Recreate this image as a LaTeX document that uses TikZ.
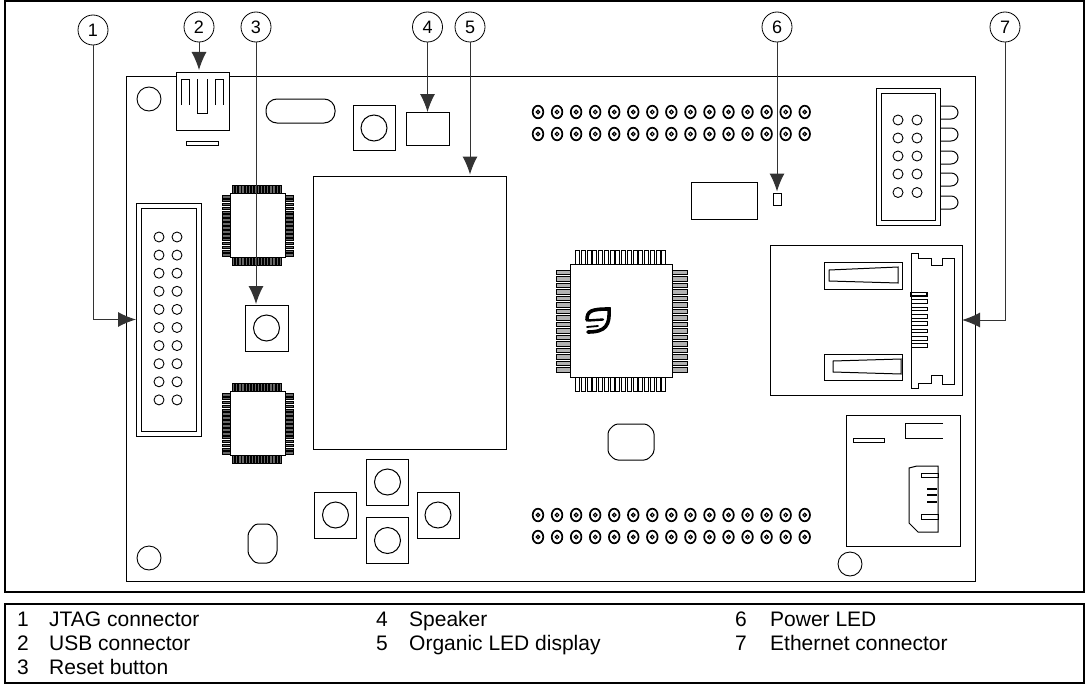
\documentclass[tikz,border=0pt]{standalone}
\usepackage{fontspec}
\setmainfont{Liberation Sans}
\tikzset{
	part/.style={draw, line width=1pt, fill=white},
	callout/.style={draw, circle, line width=0.8pt, minimum size=30pt, inner sep=0pt, fill=white, font=\fontsize{18}{18}\selectfont},
	leader/.style={draw, line width=1pt, black!80, -{Latex[length=18pt,width=15pt]}},
	target/.style={draw, line width=1pt, inner sep=0pt, outer sep=0pt},
	legend/.style={anchor=base west, inner sep=0pt, font=\fontsize{21}{21}\selectfont},
}
\usetikzlibrary{arrows.meta}
\begin{document}
\begin{tikzpicture}[x=1pt, y=-1pt]
	\useasboundingbox (0,0) rectangle (1086,685);

	% Frames
	\draw[line width=2pt] (5,1) rectangle (1084,592);
	\draw[line width=2pt] (5,604) rectangle (1084,683);

	% Board
	\draw[line width=1pt] (126,76) rectangle (975,581.5);
	\draw[line width=0.9pt] (149,99) circle (12);
	\draw[line width=0.9pt] (149,558) circle (12);
	\draw[line width=0.9pt] (850,564) circle (12);

	% USB connector
	\node[target, fill=white, minimum width=53pt, minimum height=58pt] (usb) at (202.5,101) {};
	\draw[line width=1pt] (181,105) -- (181,79) -- (189,79) -- (189,105);
	\draw[line width=1pt] (197,79) -- (197,113) -- (207,113) -- (207,79);
	\draw[line width=1pt] (215,105) -- (215,79) -- (223,79) -- (223,105);
	\draw[line width=1pt] (186,141.5) rectangle (218,145);

	% Crystal, button and speaker
	\draw[line width=1pt, rounded corners=11pt] (266,99) rectangle (335,123);
	\draw[line width=1pt] (353,105) rectangle (395,150);
	\draw[line width=1pt] (374,128) circle (13);
	\node[target, minimum width=43pt, minimum height=33pt] (speaker) at (427.5,128.5) {};

	% Organic LED display
	\node[target, minimum width=193pt, minimum height=273pt] (oled) at (409.5,312.5) {};
	\coordinate (oledtop) at (470,174.5);

	% JTAG connector
	\node[target, minimum width=65pt, minimum height=233pt] (jtag) at (168.5,319.5) {};
	\draw[line width=1pt] (141,208) rectangle (196,431);
	\foreach \row in {0,...,9} {
		\draw[line width=0.9pt] (159,237+18.1*\row) circle (5);
		\draw[line width=0.9pt] (177,237+18.1*\row) circle (5);
	}

	% Small chips
	\foreach \ytop in {193,391} {
		\foreach \i in {0,...,15} {
			\draw[line width=0.6pt, fill=black!60] (232.4+3.1*\i,\ytop-8) rectangle ++(2.2,8);
			\draw[line width=0.6pt, fill=black!60] (232.4+3.1*\i,\ytop+64) rectangle ++(2.2,8);
			\draw[line width=0.6pt, fill=black!60] (222,\ytop+2.2+3.9*\i) rectangle ++(8,2.6);
			\draw[line width=0.6pt, fill=black!60] (285,\ytop+2.2+3.9*\i) rectangle ++(8,2.6);
		}
		\draw[part] (230,\ytop) rectangle ++(55,64);
	}

	% Reset button
	\node[target, minimum width=43pt, minimum height=46pt] (reset) at (266.5,328) {};
	\draw[line width=1pt] (266.5,328) circle (13);
	\coordinate (resettop) at (256,304);

	% Four buttons
	\foreach \x/\y in {387.5/482, 335.5/515, 438/515, 387.5/540.5} {
		\draw[line width=1pt] (\x-21,\y-23) rectangle (\x+21,\y+23);
		\draw[line width=1pt] (\x,\y) circle (13);
	}

	% Chamfered ovals
	\draw[line width=1pt, rounded corners=3pt] (255,524) -- (270,524) -- (277,533) -- (277,554) -- (270,563) -- (255,563) -- (248,554) -- (248,533) -- cycle;
	\draw[line width=1pt, rounded corners=3pt] (615,424) -- (647,424) -- (654,431) -- (654,453) -- (647,460) -- (615,460) -- (608,453) -- (608,431) -- cycle;

	% Headers
	\foreach \yrow in {112,134,515,537} {
		\foreach \i in {0,...,14} {
			\draw[line width=1.7pt] (538+19.05*\i,\yrow) ellipse (5.3 and 6.3);
			\draw[line width=1.2pt] (538+19.05*\i,\yrow) circle (1.8);
		}
	}

	% Main chip
	\foreach \i in {0,...,15} {
		\draw[line width=0.7pt] (575.5+5.75*\i,250) rectangle ++(4,14);
		\draw[line width=0.7pt] (575.5+5.75*\i,377) rectangle ++(4,14);
		\draw[line width=0.7pt, fill=black!30] (556,270+6.5*\i) rectangle ++(14,4.6);
		\draw[line width=0.7pt, fill=black!30] (672,270+6.5*\i) rectangle ++(15,4.6);
	}
	\draw[part] (570,264) rectangle (672,377);

	% Logo
	\draw[line width=3.6pt, line cap=round] (587,320) .. controls (587,311) and (591,309) .. (609,309) .. controls (610,325) and (606,332) .. (588,332);
	\draw[line width=2.4pt, line cap=round] (588,320.5) -- (603,319.5);
	\draw[line width=1.8pt, line cap=round] (587,327) -- (598,326);

	% Power LED
	\draw[line width=1pt] (691,182) rectangle (757,219);
	\node[target, minimum width=8pt, minimum height=12pt] (led) at (777,199) {};
	\coordinate (ledtop) at (777,191.5);

	% Ten pin header
	\foreach \y in {106,128,151,173,196} {
		\draw[line width=1pt] (940,\y) -- (951,\y) .. controls (955,\y) and (958,\y+3) .. (958,\y+6.5) .. controls (958,\y+10) and (955,\y+13) .. (951,\y+13) -- (940,\y+13);
	}
	\draw[line width=1pt] (876,88) rectangle (940,225);
	\draw[line width=1pt] (881,93) rectangle (935,220);
	\foreach \y in {120,138,156,174,192.5} {
		\draw[line width=0.9pt] (898,\y) circle (5);
		\draw[line width=0.9pt] (917,\y) circle (5);
	}

	% Ethernet connector
	\node[target, minimum width=192pt, minimum height=150pt] (eth) at (866,320) {};
	\draw[line width=1pt] (824,262) rectangle (902,289);
	\draw[line width=1pt] (829,270) -- (898,267) -- (898,283) -- (829,281) -- cycle;
	\draw[line width=1pt] (824,354) rectangle (902,380);
	\draw[line width=1pt] (833,361) -- (901,359) -- (901,374) -- (833,372) -- cycle;
	\draw[line width=1pt] (911,253) -- (918,253) -- (918,258) -- (931,258) -- (931,265) -- (942,265) -- (942,258) -- (954,258) -- (954,384) -- (942,384) -- (942,375) -- (931,375) -- (931,383) -- (918,383) -- (918,388) -- (911,388) -- cycle;
	\foreach \i in {0,...,7} {
		\draw[line width=0.8pt, fill=white] (911,292.5+7.3*\i) rectangle ++(16,3.6);
	}
	\draw[line width=1.5pt] (911,292.5) rectangle ++(16,3.6);

	% Card slot
	\draw[line width=1pt] (846,415) rectangle (960,546);
	\draw[line width=1pt] (853,438) rectangle (884,442);
	\draw[line width=1pt] (943,423) -- (905,423) -- (905,438) -- (943,438);
	\draw[line width=1pt] (938,466) -- (917,466) -- (909,468) -- (909,523) -- (918,532) -- (938,532) -- cycle;
	\draw[line width=1pt] (921,473) rectangle (938,477.5);
	\draw[line width=1pt] (921,514) rectangle (938,519);
	\draw[line width=2pt] (927,489) -- (937,489);
	\draw[line width=2pt] (927,495) -- (937,495);
	\draw[line width=2pt] (927,502) -- (937,502);

	% Callouts
	\node[callout] (c1) at (93,30) {1};
	\node[callout] (c2) at (199,27) {2};
	\node[callout] (c3) at (256,27) {3};
	\node[callout] (c4) at (427.5,27) {4};
	\node[callout] (c5) at (470,27) {5};
	\node[callout] (c6) at (777,27) {6};
	\node[callout] (c7) at (1005,27) {7};
	\coordinate (usbtop) at (199,70);
	\draw[leader] (c1) |- (jtag);
	\draw[leader] (c2) -- (usbtop);
	\draw[leader] (c3) -- (resettop);
	\draw[leader] (c4) -- (speaker);
	\draw[leader] (c5) -- (oledtop);
	\draw[leader] (c6) -- (ledtop);
	\draw[leader] (c7) |- (eth);

	% Legend
	\node[legend] (n1) at (17,626) {1};
	\node[legend] (t1) at (49,626) {JTAG connector};
	\node[legend] (n2) at (17,650) {2};
	\node[legend] (t2) at (49,650) {USB connector};
	\node[legend] (n3) at (17,674) {3};
	\node[legend] (t3) at (49,674) {Reset button};
	\node[legend] (n4) at (376,626) {4};
	\node[legend] (t4) at (409,626) {Speaker};
	\node[legend] (n5) at (376,650) {5};
	\node[legend] (t5) at (409,650) {Organic LED display};
	\node[legend] (n6) at (735,626) {6};
	\node[legend] (t6) at (770,626) {Power LED};
	\node[legend] (n7) at (735,650) {7};
	\node[legend] (t7) at (770,650) {Ethernet connector};
\end{tikzpicture}
\end{document}
